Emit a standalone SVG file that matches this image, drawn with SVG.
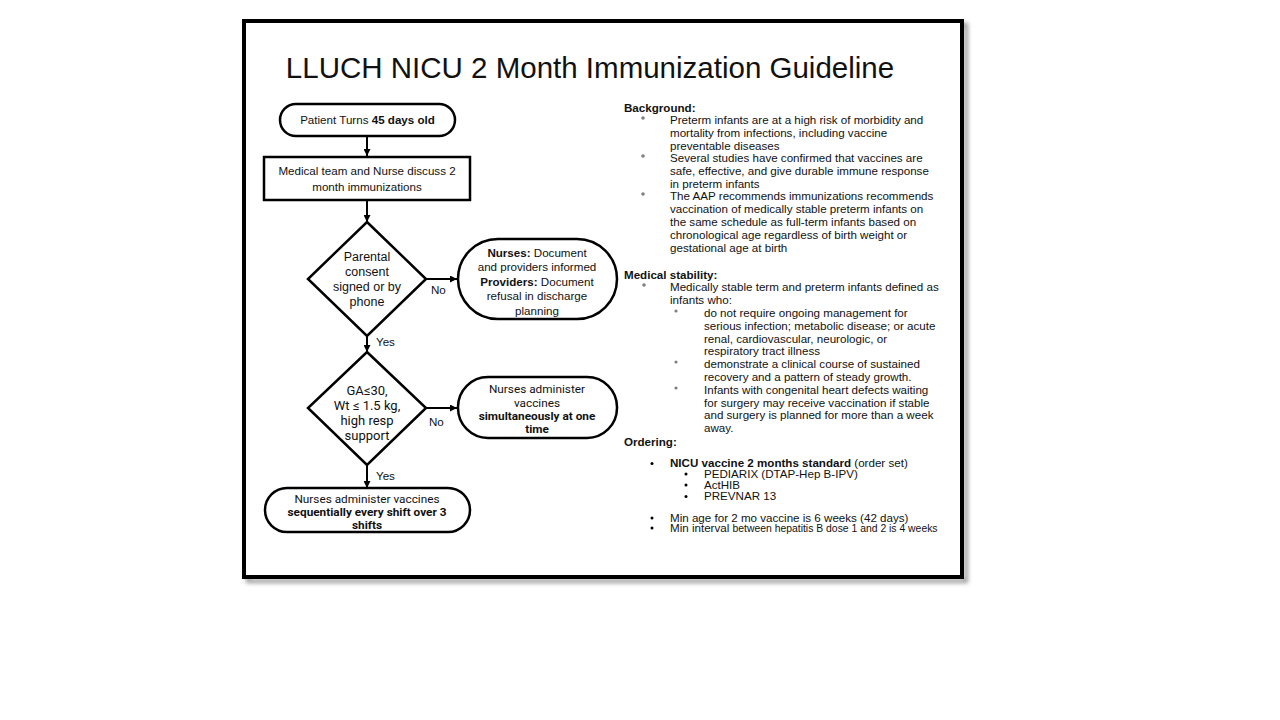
<svg xmlns="http://www.w3.org/2000/svg" width="1280" height="720" viewBox="0 0 1280 720">
<defs>
<marker id="ah" viewBox="0 0 10 10" refX="10" refY="5" markerWidth="7" markerHeight="7" markerUnits="userSpaceOnUse" orient="auto"><path d="M0,0 L10,5 L0,10 z" fill="#000"/></marker>
<filter id="sh" x="-5%" y="-5%" width="110%" height="110%"><feGaussianBlur stdDeviation="2"/></filter>
<style>
text{font-family:"Liberation Sans",Arial,sans-serif;fill:#111;}
.t{font-size:29.5px;}
.n{font-size:11.6px;}
.d{font-size:12.5px;}
.r{font-family:Roboto,"Liberation Sans",sans-serif;font-size:11.8px;}
.r13{font-family:Roboto,"Liberation Sans",sans-serif;font-size:13px;}
.h{font-size:11.6px;font-weight:bold;}
.b{font-weight:bold;}
.shape{fill:#fff;stroke:#000;stroke-width:2.5;}
.con{stroke:#000;stroke-width:2;fill:none;}
.lbl{font-size:11.6px;}
.gb{fill:#808080;}
.bb{fill:#000;}
</style>
</defs>
<rect width="1280" height="720" fill="#fff"/>
<rect x="248" y="25" width="718" height="556" fill="none" stroke="#999" stroke-width="4" filter="url(#sh)"/>
<rect x="244" y="21" width="718" height="556" fill="#fff" stroke="#000" stroke-width="4"/>
<text class="t" x="590" y="78" text-anchor="middle">LLUCH NICU 2 Month Immunization Guideline</text>

<g id="connectors">
<line class="con" x1="367" y1="136" x2="367" y2="156" marker-end="url(#ah)"/>
<line class="con" x1="367" y1="200" x2="367" y2="222" marker-end="url(#ah)"/>
<line class="con" x1="426" y1="279" x2="457" y2="279" marker-end="url(#ah)"/>
<text class="lbl" x="431" y="294">No</text>
<line class="con" x1="367" y1="336" x2="367" y2="352" marker-end="url(#ah)"/>
<text class="lbl" x="376" y="346">Yes</text>
<line class="con" x1="426" y1="408" x2="457" y2="408" marker-end="url(#ah)"/>
<text class="lbl" x="429" y="426">No</text>
<line class="con" x1="367" y1="465" x2="367" y2="488" marker-end="url(#ah)"/>
<text class="lbl" x="376" y="480">Yes</text>
</g>

<g id="start">
<rect class="shape" x="280" y="104" width="175" height="32" rx="16"/>
<text class="n" x="367.5" y="124" text-anchor="middle">Patient Turns <tspan class="b">45 days old</tspan></text>
</g>
<g id="discuss">
<rect class="shape" x="264" y="157" width="206" height="43"/>
<text class="n" x="367" y="175" text-anchor="middle">Medical team and Nurse discuss 2</text>
<text class="n" x="367" y="191" text-anchor="middle">month immunizations</text>
</g>
<g id="consent">
<polygon class="shape" points="367,222 426,279 367,336 308,279"/>
<text class="d" x="367" y="261" text-anchor="middle">Parental</text>
<text class="d" x="367" y="276" text-anchor="middle">consent</text>
<text class="d" x="367" y="291" text-anchor="middle">signed or by</text>
<text class="d" x="367" y="306" text-anchor="middle">phone</text>
</g>
<g id="refusal">
<rect class="shape" x="458" y="239" width="159" height="80" rx="40"/>
<text class="n" x="537" y="256.5" text-anchor="middle"><tspan class="b">Nurses:</tspan> Document</text>
<text class="n" x="537" y="271" text-anchor="middle">and providers informed</text>
<text class="n" x="537" y="285.5" text-anchor="middle"><tspan class="b">Providers:</tspan> Document</text>
<text class="n" x="537" y="300" text-anchor="middle">refusal in discharge</text>
<text class="n" x="537" y="314.5" text-anchor="middle">planning</text>
</g>
<g id="criteria">
<polygon class="shape" points="367,352 426,408 367,465 308,408"/>
<text class="r13" x="367" y="395" text-anchor="middle">GA≤30,</text>
<text class="r13" x="367" y="410" text-anchor="middle">Wt ≤ 1.5 kg,</text>
<text class="r13" x="367" y="425" text-anchor="middle">high resp</text>
<text class="r13" x="367" y="440" text-anchor="middle">support</text>
</g>
<g id="simultaneous">
<rect class="shape" x="458" y="377" width="159" height="61" rx="30"/>
<text class="r" x="537" y="392.5" text-anchor="middle">Nurses administer</text>
<text class="r" x="537" y="406.5" text-anchor="middle">vaccines</text>
<text class="r b" x="537" y="420" text-anchor="middle">simultaneously at one</text>
<text class="r b" x="537" y="433" text-anchor="middle">time</text>
</g>
<g id="sequential">
<rect class="shape" x="265" y="488" width="205" height="44" rx="22"/>
<text class="r" x="367" y="503" text-anchor="middle">Nurses administer vaccines</text>
<text class="r b" x="367" y="516" text-anchor="middle">sequentially every shift over 3</text>
<text class="r b" x="367" y="529" text-anchor="middle">shifts</text>
</g>

<g id="notes">
<text class="h" x="624" y="112">Background:</text>
<circle class="gb" cx="643" cy="118" r="1.8"/>
<circle class="gb" cx="643" cy="156" r="1.8"/>
<circle class="gb" cx="643" cy="194" r="1.8"/>
<text class="n" x="670" y="124">Preterm infants are at a high risk of morbidity and</text>
<text class="n" x="670" y="137">mortality from infections, including vaccine</text>
<text class="n" x="670" y="150">preventable diseases</text>
<text class="n" x="670" y="162">Several studies have confirmed that vaccines are</text>
<text class="n" x="670" y="175">safe, effective, and give durable immune response</text>
<text class="n" x="670" y="188">in preterm infants</text>
<text class="n" x="670" y="200">The AAP recommends immunizations recommends</text>
<text class="n" x="670" y="213">vaccination of medically stable preterm infants on</text>
<text class="n" x="670" y="226">the same schedule as full-term infants based on</text>
<text class="n" x="670" y="239">chronological age regardless of birth weight or</text>
<text class="n" x="670" y="252">gestational age at birth</text>

<text class="h" x="624" y="279">Medical stability:</text>
<circle class="gb" cx="644" cy="285" r="1.8"/>
<text class="n" x="670" y="291">Medically stable term and preterm infants defined as</text>
<text class="n" x="670" y="304">infants who:</text>
<circle class="gb" cx="676" cy="311" r="1.6"/>
<circle class="gb" cx="676" cy="362" r="1.6"/>
<circle class="gb" cx="676" cy="388" r="1.6"/>
<text class="n" x="704" y="317">do not require ongoing management for</text>
<text class="n" x="704" y="330">serious infection; metabolic disease; or acute</text>
<text class="n" x="704" y="343">renal, cardiovascular, neurologic, or</text>
<text class="n" x="704" y="355">respiratory tract illness</text>
<text class="n" x="704" y="368">demonstrate a clinical course of sustained</text>
<text class="n" x="704" y="381">recovery and a pattern of steady growth.</text>
<text class="n" x="704" y="394">Infants with congenital heart defects waiting</text>
<text class="n" x="704" y="407">for surgery may receive vaccination if stable</text>
<text class="n" x="704" y="419">and surgery is planned for more than a week</text>
<text class="n" x="704" y="432">away.</text>

<text class="h" x="624" y="446">Ordering:</text>
<circle class="bb" cx="652" cy="463.5" r="1.5"/>
<text class="n" x="670" y="467"><tspan class="b">NICU vaccine 2 months standard</tspan> (order set)</text>
<circle class="bb" cx="686" cy="474" r="1.5"/>
<circle class="bb" cx="686" cy="485" r="1.5"/>
<circle class="bb" cx="686" cy="496.5" r="1.5"/>
<text class="n" x="704" y="477.5">PEDIARIX (DTAP-Hep B-IPV)</text>
<text class="n" x="704" y="488.5">ActHIB</text>
<text class="n" x="704" y="500">PREVNAR 13</text>
<circle class="bb" cx="652" cy="518" r="1.5"/>
<circle class="bb" cx="652" cy="528" r="1.5"/>
<text class="n" x="670" y="521.5">Min age for 2 mo vaccine is 6 weeks (42 days)</text>
<text class="n" x="670" y="532">Min interval <tspan style="font-size:10.4px">between hepatitis B dose 1 and 2 is 4 weeks</tspan></text>
</g>
</svg>
